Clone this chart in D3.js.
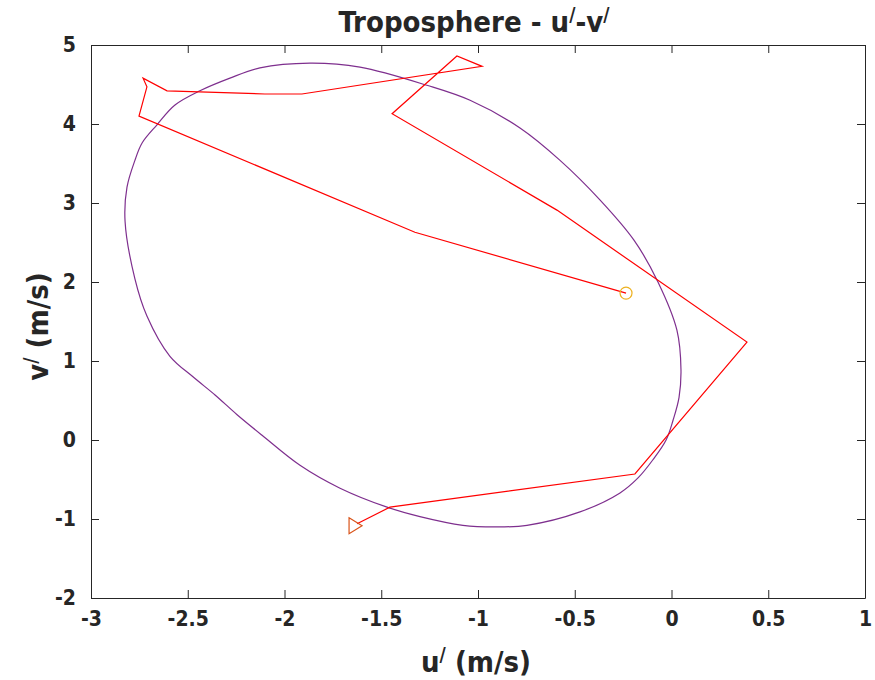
<!DOCTYPE html>
<html>
<head>
<meta charset="utf-8">
<script src="https://cdn.jsdelivr.net/npm/d3@7"></script>
<style>
  body { margin: 0; background: #fff; }
  text { font-family: 'DejaVu Sans Condensed', 'DejaVu Sans', sans-serif; font-stretch: condensed; font-weight: bold; fill: #262626; }
</style>
</head>
<body>
<div class="chart"></div>
<script>
const svgWidth = 875;
const svgHeight = 680;

// hodograph ellipse (u', v')
const ellipseU = [-1.868, -1.610, -1.264, -1.041, -0.783, -0.576, -0.370, -0.194, -0.070, 0.028,
  0.049, 0.039, 0.008, -0.028, -0.096, -0.173, -0.266, -0.473, -0.747, -0.912,
  -1.078, -1.300, -1.470, -1.713, -1.920, -2.116, -2.245, -2.359, -2.473, -2.592,
  -2.711, -2.773, -2.824, -2.814, -2.773, -2.736, -2.659, -2.566, -2.437, -2.282,
  -2.127];
const ellipseV = [4.77, 4.72, 4.49, 4.30, 3.95, 3.54, 3.04, 2.53, 2.00, 1.39,
  0.89, 0.54, 0.25, 0.00, -0.25, -0.48, -0.67, -0.91, -1.08, -1.10,
  -1.08, -0.97, -0.85, -0.61, -0.32, 0.06, 0.32, 0.57, 0.80, 1.06,
  1.57, 2.04, 2.77, 3.20, 3.54, 3.76, 3.99, 4.24, 4.42, 4.58,
  4.71];

// observed wind perturbation path
const pathU = [-0.235, -1.326, -2.752, -2.711, -2.731, -2.607, -2.101, -1.910, -0.979, -1.109,
  -1.444, -0.592, 0.390, -0.189, -1.455, -1.625];
const pathV = [1.86, 2.63, 4.10, 4.47, 4.58, 4.42, 4.38, 4.38, 4.73, 4.86,
  4.13, 2.91, 1.24, -0.43, -0.85, -1.06];

const xTicks = [-3, -2.5, -2, -1.5, -1, -0.5, 0, 0.5, 1];
const yTicks = [-2, -1, 0, 1, 2, 3, 4, 5];

const margin = { top: 45, right: 10, bottom: 82, left: 91 };
const width = svgWidth - margin.left - margin.right;
const height = svgHeight - margin.top - margin.bottom;

const svg = d3.select('.chart')
  .append('svg')
  .attr('width', svgWidth)
  .attr('height', svgHeight);

const chartGroup = svg.append('g')
  .attr('transform', `translate(${margin.left}, ${margin.top})`);

const x = d3.scaleLinear().domain([-3, 1]).range([0, width]);
const y = d3.scaleLinear().domain([-2, 5]).range([height, 0]);

// axes, MATLAB style: ticks inside on all four sides
const tickLen = 8;
function styleAxis(g) {
  g.select('.domain').attr('stroke', '#262626');
  g.selectAll('.tick line').attr('stroke', '#262626');
  g.selectAll('.tick text')
    .style('font-size', '21px');
}

const fmt = d => d3.format('')(d).replace('−', '-');

chartGroup.append('g')
  .attr('transform', `translate(0, ${height})`)
  .call(d3.axisBottom(x).tickValues(xTicks).tickSize(-tickLen).tickSizeOuter(0).tickPadding(13).tickFormat(fmt))
  .call(styleAxis);

chartGroup.append('g')
  .call(d3.axisTop(x).tickValues(xTicks).tickSize(-tickLen).tickSizeOuter(0).tickFormat(''))
  .call(styleAxis);

chartGroup.append('g')
  .call(d3.axisLeft(y).tickValues(yTicks).tickSize(-tickLen).tickSizeOuter(0).tickPadding(15).tickFormat(fmt))
  .call(styleAxis);

chartGroup.append('g')
  .attr('transform', `translate(${width}, 0)`)
  .call(d3.axisRight(y).tickValues(yTicks).tickSize(-tickLen).tickSizeOuter(0).tickFormat(''))
  .call(styleAxis);

chartGroup.selectAll('.tick text').attr('fill', '#262626');

// ellipse
const ellipsePts = ellipseU.map((u, i) => [u, ellipseV[i]]);
chartGroup.append('path')
  .datum(ellipsePts)
  .attr('fill', 'none')
  .attr('stroke', '#7E2F8E')
  .attr('stroke-width', 1.2)
  .attr('d', d3.line().x(d => x(d[0])).y(d => y(d[1])).curve(d3.curveCatmullRomClosed));

// wind path
const pathPts = pathU.map((u, i) => [u, pathV[i]]);
chartGroup.append('path')
  .datum(pathPts)
  .attr('fill', 'none')
  .attr('stroke', '#FF0000')
  .attr('stroke-width', 1.2)
  .attr('d', d3.line().x(d => x(d[0])).y(d => y(d[1])));

// start marker (circle)
const start = pathPts[0];
chartGroup.append('circle')
  .attr('cx', x(start[0]))
  .attr('cy', y(start[1]))
  .attr('r', 6)
  .attr('fill', 'none')
  .attr('stroke', '#EDB120')
  .attr('stroke-width', 1.2);

// end marker (right-pointing triangle)
const end = pathPts[pathPts.length - 1];
const ex = x(end[0]) - 2, ey = y(end[1]) + 2;
chartGroup.append('path')
  .attr('d', `M${ex - 6},${ey - 8} L${ex + 7},${ey} L${ex - 6},${ey + 8} Z`)
  .attr('fill', 'none')
  .attr('stroke', '#D95319')
  .attr('stroke-width', 1.2);

// title
const title = svg.append('text')
  .attr('x', margin.left + width / 2 - 4)
  .attr('y', 32)
  .attr('text-anchor', 'middle')
  .style('font-size', '29px');
title.append('tspan').text('Troposphere - u');
title.append('tspan').attr('dy', -11).style('font-size', '19px').text('/');
title.append('tspan').attr('dy', 11).text('-v');
title.append('tspan').attr('dy', -11).style('font-size', '19px').text('/');

// x label
const xl = svg.append('text')
  .attr('x', margin.left + width / 2 - 2)
  .attr('y', 672)
  .attr('text-anchor', 'middle')
  .style('font-size', '29px');
xl.append('tspan').text('u');
xl.append('tspan').attr('dy', -11).style('font-size', '19px').text('/');
xl.append('tspan').attr('dy', 11).text(' (m/s)');

// y label
const yl = svg.append('text')
  .attr('transform', `translate(48, ${margin.top + height / 2 + 5}) rotate(-90)`)
  .attr('text-anchor', 'middle')
  .style('font-size', '29px');
yl.append('tspan').text('v');
yl.append('tspan').attr('dy', -11).style('font-size', '19px').text('/');
yl.append('tspan').attr('dy', 11).text(' (m/s)');
</script>
</body>
</html>
